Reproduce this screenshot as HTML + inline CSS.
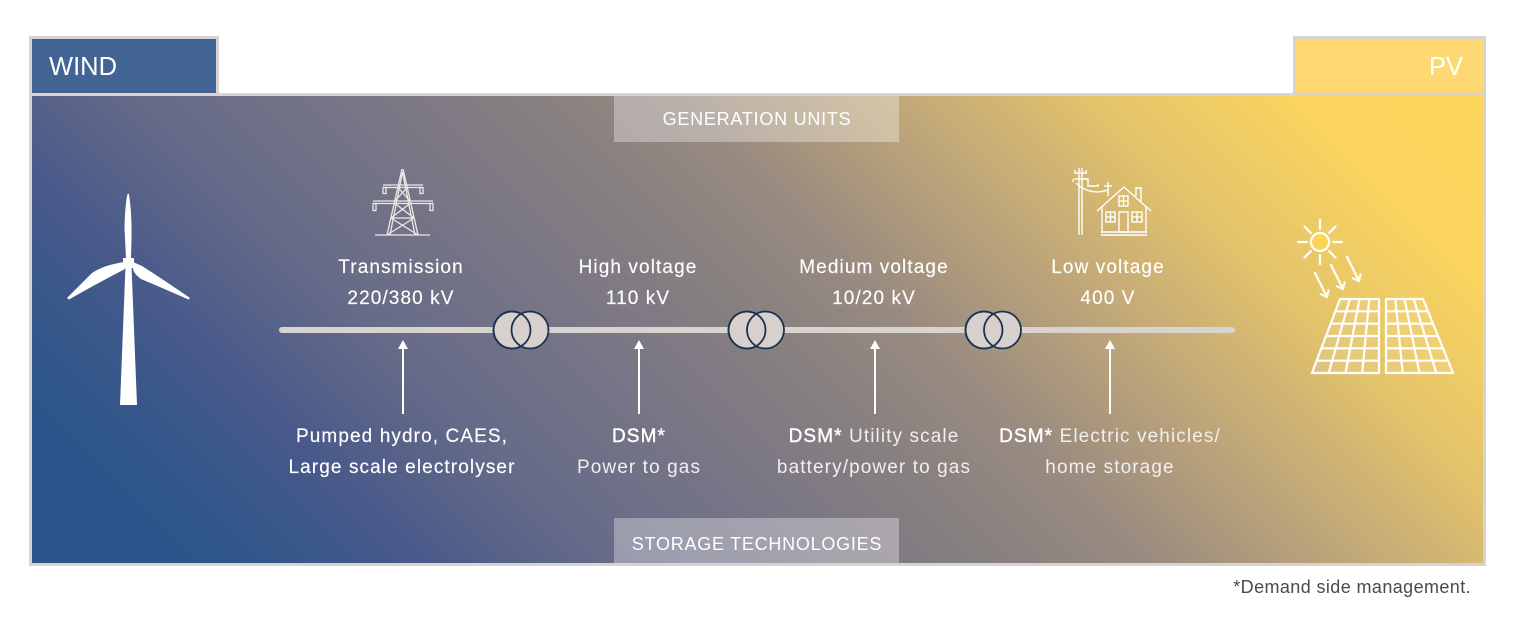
<!DOCTYPE html>
<html><head><meta charset="utf-8"><style>
html,body{margin:0;padding:0;background:#fff;}
svg{display:block;}
text{font-family:"Liberation Sans",Arial,sans-serif;}
</style></head><body>
<svg width="1518" height="626" viewBox="0 0 1518 626" xmlns="http://www.w3.org/2000/svg">
<defs>
<linearGradient id="bg" gradientUnits="userSpaceOnUse" x1="279" y1="809" x2="1237" y2="-149">
<stop offset="0" stop-color="#2a548c"/>
<stop offset="0.1" stop-color="#2d568b"/>
<stop offset="0.2" stop-color="#48598a"/>
<stop offset="0.3" stop-color="#666b88"/>
<stop offset="0.43" stop-color="#7c7885"/>
<stop offset="0.5" stop-color="#878080"/>
<stop offset="0.58" stop-color="#988a80"/>
<stop offset="0.68" stop-color="#bca47a"/>
<stop offset="0.79" stop-color="#e2c26c"/>
<stop offset="0.9" stop-color="#fad45f"/>
<stop offset="1" stop-color="#fdd65b"/>
</linearGradient>
<marker id="chev" markerWidth="12" markerHeight="12" refX="7" refY="6" orient="auto" markerUnits="userSpaceOnUse">
<path d="M1,1 L7,6 L1,11" fill="none" stroke="#fff" stroke-width="2"/>
</marker>
</defs>

<!-- tabs -->
<rect x="30.5" y="37.5" width="187" height="57" fill="#426494" stroke="#d9d3cf" stroke-width="3"/>
<rect x="1294.5" y="37.5" width="190" height="57" fill="#fdd873" stroke="#d9d3cf" stroke-width="3"/>
<text x="49" y="75" font-size="25.5" fill="#fff">WIND</text>
<text x="1463" y="75" font-size="25.5" fill="#fff" text-anchor="end">PV</text>

<!-- main box -->
<rect x="30.5" y="94.5" width="1454" height="470" fill="url(#bg)" stroke="#d9d3cf" stroke-width="3"/>

<!-- header boxes -->
<rect x="614" y="96" width="285" height="46" fill="#fff" fill-opacity="0.33"/>
<text x="757" y="125" font-size="18" fill="#fff" text-anchor="middle" letter-spacing="0.75">GENERATION UNITS</text>
<rect x="614" y="518" width="285" height="45" fill="#fff" fill-opacity="0.33"/>
<text x="757" y="550" font-size="18" fill="#fff" text-anchor="middle" letter-spacing="0.75">STORAGE TECHNOLOGIES</text>

<!-- wind turbine -->
<g fill="#fff">
<polygon points="125.5,266 131.5,266 137,405 120,405"/>
<rect x="123" y="258" width="11" height="10"/>
<path d="M126,259 L124.5,228 Q125,205 127.5,194 L129,194 Q132,214 131.5,238 L131,259 Z"/>
<path d="M124,262 Q104,265 92,273 L67,298 L69,299.5 Q96,284 125,269 Z"/>
<path d="M133,262 L142,266 Q164,280 190,298 L188.5,299.5 Q160,287 141,279 Q134,274 133,269 Z"/>
</g>

<!-- pylon -->
<g stroke="#ece8e6" stroke-width="1.3" fill="none">
<line x1="402" y1="169" x2="387" y2="235"/>
<line x1="403" y1="169" x2="418" y2="235"/>
<line x1="402.5" y1="172" x2="390" y2="235"/>
<line x1="402.5" y1="172" x2="415" y2="235"/>
<line x1="383" y1="185" x2="423" y2="185"/>
<line x1="383" y1="187.5" x2="423" y2="187.5"/>
<rect x="383" y="187.5" width="3" height="6"/>
<rect x="420" y="187.5" width="3" height="6"/>
<line x1="373" y1="201" x2="433" y2="201"/>
<line x1="373" y1="203.5" x2="433" y2="203.5"/>
<rect x="373" y="203.5" width="3" height="7"/>
<rect x="430" y="203.5" width="3" height="7"/>
<line x1="398" y1="187.5" x2="410" y2="201"/>
<line x1="407" y1="187.5" x2="395" y2="201"/>
<line x1="395" y1="203.5" x2="414" y2="218"/>
<line x1="410" y1="203.5" x2="391" y2="218"/>
<line x1="391" y1="218" x2="418" y2="235"/>
<line x1="414" y1="218" x2="387" y2="235"/>
<line x1="391" y1="218" x2="414" y2="218"/>
<line x1="375" y1="235" x2="430" y2="235"/>
</g>

<!-- house + pole -->
<g stroke="#fff" stroke-width="1.4" fill="none">
<line x1="1079" y1="168" x2="1079" y2="235"/>
<line x1="1082" y1="168" x2="1082" y2="235"/>
<line x1="1074" y1="173" x2="1087" y2="173"/>
<line x1="1074" y1="179" x2="1088" y2="179"/>
<line x1="1075" y1="170" x2="1075" y2="173"/>
<line x1="1086" y1="170" x2="1086" y2="173"/>
<line x1="1073" y1="182" x2="1073" y2="179"/>
<path d="M1076,183 Q1090,196 1108,190"/>
<path d="M1083,179 L1088,179 L1088,186 L1098,186 L1098,184"/>
<line x1="1104" y1="186" x2="1112" y2="186"/>
<line x1="1108" y1="182" x2="1108" y2="196"/>
<polyline points="1097,211 1124,187 1151,211"/>
<polyline points="1136,196 1136,188 1141,188 1141,201"/>
<line x1="1102" y1="207" x2="1102" y2="233"/>
<line x1="1146" y1="207" x2="1146" y2="233"/>
<line x1="1101" y1="232" x2="1147" y2="232"/>
<line x1="1101" y1="235" x2="1147" y2="235"/>
<rect x="1119" y="196" width="9" height="10"/>
<line x1="1123.5" y1="196" x2="1123.5" y2="206"/>
<line x1="1119" y1="201" x2="1128" y2="201"/>
<rect x="1106" y="212" width="9" height="10"/>
<line x1="1110.5" y1="212" x2="1110.5" y2="222"/>
<line x1="1106" y1="217" x2="1115" y2="217"/>
<rect x="1132" y="212" width="10" height="10"/>
<line x1="1137" y1="212" x2="1137" y2="222"/>
<line x1="1132" y1="217" x2="1142" y2="217"/>
<rect x="1119" y="212" width="9" height="20"/>
</g>

<!-- sun + panels -->
<g stroke="#fff" stroke-width="2.2" fill="none" stroke-linecap="round">
<circle cx="1320" cy="242" r="9" fill="#fcd45a"/>
<line x1="1320" y1="229" x2="1320" y2="220"/>
<line x1="1320" y1="255" x2="1320" y2="264"/>
<line x1="1307" y1="242" x2="1298" y2="242"/>
<line x1="1333" y1="242" x2="1342" y2="242"/>
<line x1="1310.8" y1="232.8" x2="1304.4" y2="226.4"/>
<line x1="1329.2" y1="232.8" x2="1335.6" y2="226.4"/>
<line x1="1310.8" y1="251.2" x2="1304.4" y2="257.6"/>
<line x1="1329.2" y1="251.2" x2="1335.6" y2="257.6"/>
<line x1="1315" y1="273" x2="1327" y2="297" marker-end="url(#chev)"/>
<line x1="1331" y1="265" x2="1343" y2="289" marker-end="url(#chev)"/>
<line x1="1347" y1="257" x2="1359" y2="281" marker-end="url(#chev)"/>
</g>
<g stroke="#fff" stroke-width="2.2" fill="none" stroke-linejoin="round">
<polygon points="1340,299 1379,299 1379,373 1312,373" fill="#fff" fill-opacity="0.1"/>
<line x1="1349.75" y1="299" x2="1328.75" y2="373"/>
<line x1="1359.5" y1="299" x2="1345.5" y2="373"/>
<line x1="1369.25" y1="299" x2="1362.25" y2="373"/>
<line x1="1335.33" y1="311.33" x2="1379" y2="311.33"/>
<line x1="1330.67" y1="323.67" x2="1379" y2="323.67"/>
<line x1="1326" y1="336" x2="1379" y2="336"/>
<line x1="1321.33" y1="348.33" x2="1379" y2="348.33"/>
<line x1="1316.67" y1="360.67" x2="1379" y2="360.67"/>
<polygon points="1386,299 1423,299 1453,373 1386,373" fill="#fff" fill-opacity="0.1"/>
<line x1="1395.25" y1="299" x2="1402.75" y2="373"/>
<line x1="1404.5" y1="299" x2="1419.5" y2="373"/>
<line x1="1413.75" y1="299" x2="1436.25" y2="373"/>
<line x1="1386" y1="311.33" x2="1428" y2="311.33"/>
<line x1="1386" y1="323.67" x2="1433" y2="323.67"/>
<line x1="1386" y1="336" x2="1438" y2="336"/>
<line x1="1386" y1="348.33" x2="1443" y2="348.33"/>
<line x1="1386" y1="360.67" x2="1448" y2="360.67"/>
</g>

<!-- main line -->
<line x1="282" y1="330" x2="1232" y2="330" stroke="#d9d3cf" stroke-width="6" stroke-linecap="round"/>

<!-- transformers -->
<g fill="#d8d0cc" stroke="#1b3152" stroke-width="1.8">
<circle cx="512" cy="330" r="18.5"/>
<circle cx="530" cy="330" r="18.5"/>
<circle cx="747" cy="330" r="18.5"/>
<circle cx="765.5" cy="330" r="18.5"/>
<circle cx="984" cy="330" r="18.5"/>
<circle cx="1002.5" cy="330" r="18.5"/>
</g>
<g fill="none" stroke="#1b3152" stroke-width="1.8">
<circle cx="512" cy="330" r="18.5"/>
<circle cx="747" cy="330" r="18.5"/>
<circle cx="984" cy="330" r="18.5"/>
</g>

<!-- arrows -->
<g stroke="#fff" stroke-width="2">
<line x1="403" y1="347" x2="403" y2="414"/>
<line x1="639" y1="347" x2="639" y2="414"/>
<line x1="875" y1="347" x2="875" y2="414"/>
<line x1="1110" y1="347" x2="1110" y2="414"/>
</g>
<g fill="#fff">
<polygon points="398,349 403,340 408,349"/>
<polygon points="634,349 639,340 644,349"/>
<polygon points="870,349 875,340 880,349"/>
<polygon points="1105,349 1110,340 1115,349"/>
</g>

<!-- top labels -->
<g font-size="19" fill="#fff" stroke="#fff" stroke-width="0.15" text-anchor="middle" letter-spacing="1.1">
<text x="401" y="273">Transmission</text>
<text x="401" y="304">220/380 kV</text>
<text x="638" y="273">High voltage</text>
<text x="638" y="304">110 kV</text>
<text x="874" y="273">Medium voltage</text>
<text x="874" y="304">10/20 kV</text>
<text x="1108" y="273">Low voltage</text>
<text x="1108" y="304">400 V</text>
</g>

<!-- bottom labels -->
<g font-size="19" fill="#fff" text-anchor="middle" letter-spacing="1.1">
<text x="402" y="442" stroke="#fff" stroke-width="0.15">Pumped hydro, CAES,</text>
<text x="402" y="473" stroke="#fff" stroke-width="0.15">Large scale electrolyser</text>
<text x="639" y="442" stroke="#fff" stroke-width="0.4">DSM*</text>
<text x="639" y="473" fill="#f1efef">Power to gas</text>
<text x="874" y="442"><tspan stroke="#fff" stroke-width="0.4">DSM*</tspan><tspan fill="#f1efef"> Utility scale</tspan></text>
<text x="874" y="473" fill="#f1efef">battery/power to gas</text>
<text x="1110" y="442"><tspan stroke="#fff" stroke-width="0.4">DSM*</tspan><tspan fill="#f1efef"> Electric vehicles/</tspan></text>
<text x="1110" y="473" fill="#f1efef">home storage</text>
</g>

<!-- footnote -->
<text x="1471" y="593" font-size="18" fill="#4a4a4a" text-anchor="end" letter-spacing="0.4">*Demand side management.</text>
</svg>
</body></html>
